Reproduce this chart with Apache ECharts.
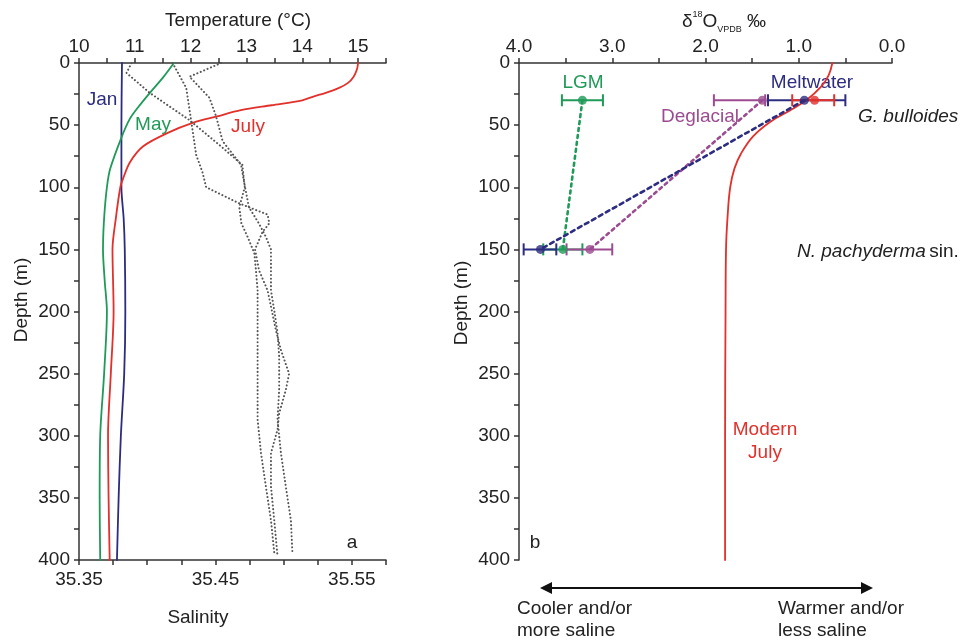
<!DOCTYPE html>
<html>
<head>
<meta charset="utf-8">
<script src="https://cdn.jsdelivr.net/npm/echarts@6/dist/echarts.min.js"></script>
<style>
html, body { margin: 0; padding: 0; background: #fff; }
#chart { width: 974px; height: 641px; }
</style>
</head>
<body>
<div id="chart"></div>
<script>
// ---- panel a: temperature profiles (deg C) vs depth (m)
const janDepth = [0, 50, 100, 125, 150, 200, 250, 300, 350, 400];
const janTemp = [10.77, 10.76, 10.76, 10.8, 10.82, 10.83, 10.81, 10.75, 10.71, 10.68];
const mayDepth = [0, 12, 24, 35, 45, 60, 85, 100, 125, 150, 175, 200, 250, 300, 350, 400];
const mayTemp = [11.7, 11.5, 11.27, 11.07, 10.91, 10.76, 10.56, 10.5, 10.45, 10.43, 10.46, 10.5, 10.45, 10.38, 10.37, 10.38];
const julyDepth = [0, 5, 11, 16, 20, 24, 27, 30, 34, 38, 43, 48, 56, 67, 80, 93, 100, 125, 150, 200, 250, 300, 350, 400];
const julyTemp = [15.0, 14.98, 14.92, 14.82, 14.66, 14.42, 14.2, 14.0, 13.45, 12.9, 12.47, 12.05, 11.6, 11.15, 10.91, 10.79, 10.74, 10.66, 10.6, 10.62, 10.57, 10.52, 10.53, 10.55];

// salinity profiles (dotted)
const sal1Depth = [0, 8, 24, 46, 66, 82, 100, 116, 129, 140, 153, 167, 183, 250, 287, 314, 341, 368, 394];
const sal1 = [35.3885, 35.3848, 35.4018, 35.431, 35.4529, 35.4697, 35.4715, 35.4675, 35.469, 35.4736, 35.4785, 35.4797, 35.4809, 35.4809, 35.4809, 35.4834, 35.487, 35.4907, 35.4931];
const sal2Depth = [0, 20, 47, 74, 88, 100, 113, 122, 129, 136, 150, 167, 183, 196, 215, 231, 250, 263, 282, 295, 314, 341, 368, 397];
const sal2 = [35.4186, 35.4286, 35.4323, 35.4359, 35.4405, 35.4432, 35.4675, 35.4882, 35.4895, 35.4845, 35.479, 35.482, 35.4882, 35.4907, 35.4943, 35.498, 35.504, 35.5016, 35.4967, 35.4955, 35.4907, 35.4907, 35.4931, 35.4955];
const sal3Depth = [0, 11, 28, 43, 63, 82, 97, 116, 129, 140, 150, 183, 199, 217, 236, 263, 287, 314, 341, 368, 394];
const sal3 = [35.4542, 35.431, 35.4456, 35.4505, 35.4553, 35.4688, 35.4712, 35.4745, 35.4818, 35.487, 35.4907, 35.4907, 35.4931, 35.4955, 35.4967, 35.4967, 35.4955, 35.498, 35.5016, 35.5053, 35.5064];

// ---- panel b: d18O
const modernDepth = [0, 10, 19, 30, 38, 47, 59, 73, 85, 100, 120, 150, 200, 300, 400];
const modernD18O = [0.64, 0.68, 0.76, 0.92, 1.09, 1.3, 1.49, 1.62, 1.69, 1.735, 1.76, 1.78, 1.785, 1.79, 1.79];

const foramDepth = [30, 150]; // G. bulloides, N. pachyderma sin.
const lgmMean = [3.32, 3.53], lgmLow = [3.54, 3.74], lgmHigh = [3.10, 3.32];
const degMean = [1.39, 3.24], degLow = [1.91, 3.49], degHigh = [1.36, 3.00];
const meltMean = [0.94, 3.77], meltLow = [1.33, 3.95], meltHigh = [0.50, 3.60];
const coreDepth = [30];
const coreMean = [0.83], coreLow = [1.07], coreHigh = [0.62];

// tick labels
const depthTicks = ['0', '50', '100', '150', '200', '250', '300', '350', '400'];
const tempTicks = ['10', '11', '12', '13', '14', '15'];
const salTicks = ['35.35', '35.45', '35.55'];
const d18Ticks = ['4.0', '3.0', '2.0', '1.0', '0.0'];

const FONT = "'Liberation Sans', Arial, sans-serif";
const NAVY = '#2c2c80', GREEN = '#1f9a58', RED = '#e2302b', PURPLE = '#9b4b90', GREY = '#555';

const chart = echarts.init(document.getElementById('chart'));

function pairs(xs, ys) { return xs.map((x, i) => [x, ys[i]]); }

function baseAxis() {
  return {
    type: 'value',
    axisLine: { show: true, onZero: false, lineStyle: { color: '#333', width: 1.5 } },
    axisTick: { show: true, length: 5, lineStyle: { color: '#333', width: 1.5 } },
    splitLine: { show: false },
    axisLabel: { color: '#222', fontSize: 19, fontFamily: FONT }
  };
}

function depthAxis(grid) {
  const a = baseAxis();
  Object.assign(a, { gridIndex: grid, min: 0, max: 400, interval: 25, inverse: true, position: 'left' });
  a.axisLabel.margin = 9;
  a.axisLabel.formatter = v => depthTicks.includes(String(v)) ? String(v) : '';
  return a;
}

const tempAxis = baseAxis();
Object.assign(tempAxis, { gridIndex: 0, position: 'top', min: 10, max: 15.5, interval: 0.5 });
tempAxis.axisLabel.margin = 7;
tempAxis.axisLabel.formatter = v => tempTicks.includes(String(v)) ? String(v) : '';

const salAxis = baseAxis();
Object.assign(salAxis, { gridIndex: 0, position: 'bottom', min: 35.35, max: 35.575, interval: 0.025 });
salAxis.axisLabel.margin = 10;
salAxis.axisLabel.formatter = v => salTicks.includes(v.toFixed(2)) && Math.abs(v * 20 - Math.round(v * 20)) < 1e-6 ? v.toFixed(2) : '';

const d18Axis = baseAxis();
Object.assign(d18Axis, { gridIndex: 1, position: 'top', min: 0, max: 4, interval: 0.5, inverse: true });
d18Axis.axisLabel.margin = 7;
d18Axis.axisLabel.formatter = v => d18Ticks.includes(v.toFixed(1)) && Math.abs(v - Math.round(v)) < 1e-6 ? v.toFixed(1) : '';

function profile(name, xIdx, yIdx, data, color, width, smooth, type) {
  return {
    name, type: 'line', xAxisIndex: xIdx, yAxisIndex: yIdx, data,
    showSymbol: false, smooth: smooth, silent: true,
    lineStyle: { color, width, type: type || 'solid', cap: 'round' }
  };
}

function errorBars(name, lows, highs, depths, color) {
  return {
    name, type: 'custom', xAxisIndex: 2, yAxisIndex: 1,
    data: depths.map((d, i) => [lows[i], highs[i], d]),
    encode: { x: [0, 1], y: 2 },
    renderItem: function (params, api) {
      const lo = api.coord([api.value(0), api.value(2)]);
      const hi = api.coord([api.value(1), api.value(2)]);
      const h = 6;
      const st = { stroke: color, lineWidth: 2 };
      return {
        type: 'group', children: [
          { type: 'line', shape: { x1: lo[0], y1: lo[1], x2: hi[0], y2: hi[1] }, style: st },
          { type: 'line', shape: { x1: lo[0], y1: lo[1] - h, x2: lo[0], y2: lo[1] + h }, style: st },
          { type: 'line', shape: { x1: hi[0], y1: hi[1] - h, x2: hi[0], y2: hi[1] + h }, style: st }
        ]
      };
    }
  };
}

function dots(name, means, depths, color) {
  return {
    name, type: 'scatter', xAxisIndex: 2, yAxisIndex: 1, z: 5,
    data: pairs(means, depths), symbolSize: 9,
    itemStyle: { color }
  };
}

function txt(x, y, text, color, extra) {
  return {
    type: 'text', x, y, silent: true,
    style: Object.assign({
      text, fill: color || '#222', font: '19px ' + FONT,
      align: 'center', verticalAlign: 'middle', textAlign: 'center', textVerticalAlign: 'middle'
    }, extra || {})
  };
}

const DOT = [0.1, 3.6];

const option = {
  animation: false,
  backgroundColor: '#fff',
  grid: [
    { left: 79, top: 63, width: 307, height: 497, outerBoundsMode: 'none' },
    { left: 519, top: 63, width: 373, height: 497, outerBoundsMode: 'none' }
  ],
  xAxis: [tempAxis, salAxis, d18Axis],
  yAxis: [depthAxis(0), depthAxis(1)],
  series: [
    profile('Jan', 0, 0, pairs(janTemp, janDepth), NAVY, 1.8, 0.3),
    profile('May', 0, 0, pairs(mayTemp, mayDepth), GREEN, 1.8, 0.3),
    profile('July', 0, 0, pairs(julyTemp, julyDepth), RED, 1.8, 0.3),
    profile('Sal 1', 1, 0, pairs(sal1, sal1Depth), GREY, 2, false, DOT),
    profile('Sal 2', 1, 0, pairs(sal2, sal2Depth), GREY, 2, false, DOT),
    profile('Sal 3', 1, 0, pairs(sal3, sal3Depth), GREY, 2, false, DOT),

    profile('Modern July', 2, 1, pairs(modernD18O, modernDepth), RED, 1.8, 0.4),
    profile('LGM link', 2, 1, pairs(lgmMean, foramDepth), GREEN, 2.6, false, [3, 4]),
    profile('Deglacial link', 2, 1, pairs(degMean, foramDepth), PURPLE, 2.6, false, [3, 4]),
    profile('Meltwater link', 2, 1, pairs(meltMean, foramDepth), NAVY, 2.6, false, [4, 4]),

    errorBars('LGM', lgmLow, lgmHigh, foramDepth, GREEN),
    errorBars('Deglacial', degLow, degHigh, foramDepth, PURPLE),
    errorBars('Meltwater', meltLow, meltHigh, foramDepth, NAVY),
    errorBars('Core top', coreLow, coreHigh, coreDepth, RED),

    dots('LGM pt', lgmMean, foramDepth, GREEN),
    dots('Deglacial pt', degMean, foramDepth, PURPLE),
    dots('Meltwater pt', meltMean, foramDepth, NAVY),
    dots('Core top pt', coreMean, coreDepth, RED)
  ],
  graphic: [
    // panel a
    txt(238, 21, 'Temperature (°C)'),
    txt(198, 618, 'Salinity'),
    Object.assign(txt(22, 300, 'Depth (m)'), { rotation: Math.PI / 2 }),
    txt(102, 100, 'Jan', NAVY),
    txt(153, 125, 'May', GREEN),
    txt(248, 127, 'July', RED),
    txt(352, 543, 'a'),
    // panel b
    {
      type: 'text', x: 724, y: 22, silent: true,
      style: {
        text: '{d|δ}{sup|18}{d|O}{sub|VPDB}{d| ‰}',
        align: 'center', verticalAlign: 'middle', textAlign: 'center', textVerticalAlign: 'middle',
        rich: {
          d: { fontSize: 19, fontFamily: FONT, fill: '#222', color: '#222', lineHeight: 24 },
          sup: { fontSize: 9, fontFamily: FONT, fill: '#222', color: '#222', verticalAlign: 'top', lineHeight: 12 },
          sub: { fontSize: 9, fontFamily: FONT, fill: '#222', color: '#222', verticalAlign: 'bottom', lineHeight: 12 }
        }
      }
    },
    Object.assign(txt(462, 303, 'Depth (m)'), { rotation: Math.PI / 2 }),
    txt(583, 83, 'LGM', GREEN),
    txt(812, 83, 'Meltwater', NAVY),
    txt(700, 117, 'Deglacial', PURPLE),
    txt(858, 117, 'G. bulloides', '#222', { align: 'left', textAlign: 'left', font: 'italic 19px ' + FONT }),
    {
      type: 'text', x: 797, y: 252, silent: true,
      style: {
        text: '{i|N. pachyderma} {n|sin.}',
        align: 'left', verticalAlign: 'middle', textAlign: 'left', textVerticalAlign: 'middle',
        rich: {
          i: { fontSize: 19, fontStyle: 'italic', fontFamily: FONT, fill: '#222', color: '#222' },
          n: { fontSize: 19, fontFamily: FONT, fill: '#222', color: '#222' }
        }
      }
    },
    txt(765, 430, 'Modern', RED),
    txt(765, 453, 'July', RED),
    txt(535, 543, 'b'),
    // warm/cool arrow
    { type: 'line', silent: true, shape: { x1: 548, y1: 588, x2: 865, y2: 588 }, style: { stroke: '#111', lineWidth: 2 } },
    { type: 'polygon', silent: true, shape: { points: [[540, 588], [552, 582], [552, 594]] }, style: { fill: '#111' } },
    { type: 'polygon', silent: true, shape: { points: [[873, 588], [861, 582], [861, 594]] }, style: { fill: '#111' } },
    txt(517, 609, 'Cooler and/or', '#222', { align: 'left', textAlign: 'left' }),
    txt(517, 631, 'more saline', '#222', { align: 'left', textAlign: 'left' }),
    txt(778, 609, 'Warmer and/or', '#222', { align: 'left', textAlign: 'left' }),
    txt(778, 631, 'less saline', '#222', { align: 'left', textAlign: 'left' })
  ]
};

chart.setOption(option);
</script>
</body>
</html>
